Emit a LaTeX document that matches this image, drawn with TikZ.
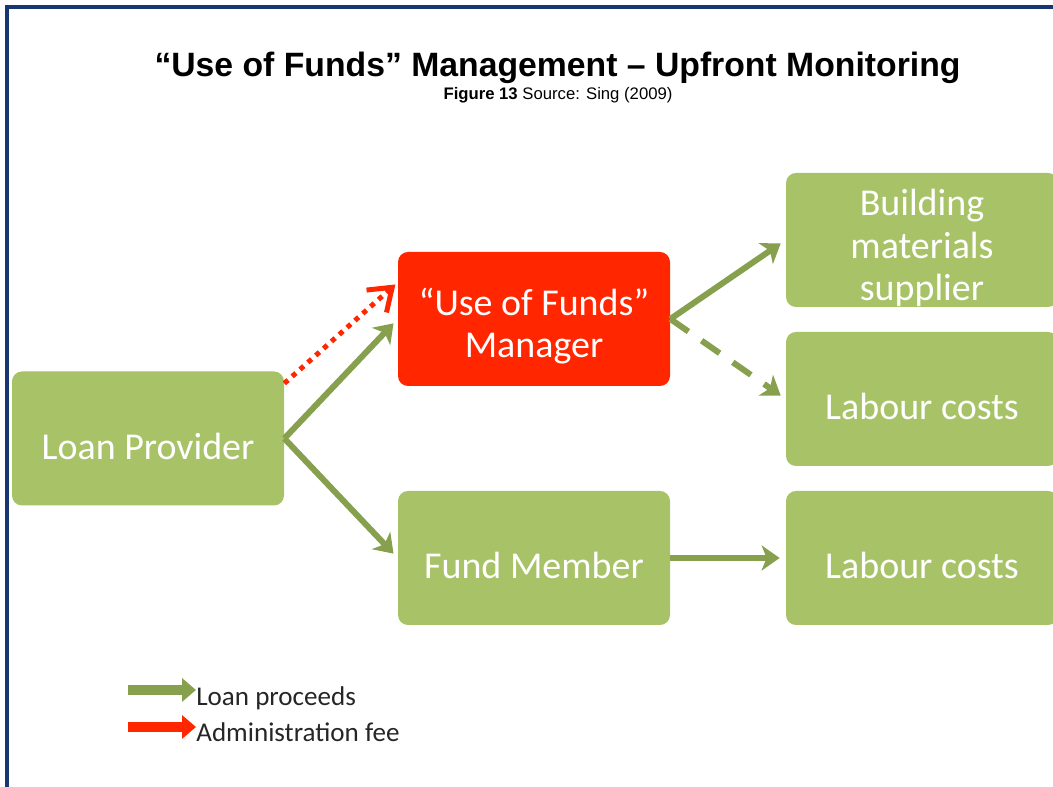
\documentclass[tikz,border=0pt]{standalone}
\usepackage{fontspec}
\setmainfont{Carlito}
\newfontfamily\titlefont{Liberation Sans}
\usetikzlibrary{arrows.meta}
\definecolor{C0}{RGB}{168,194,104}
\definecolor{C1}{RGB}{134,160,78}
\definecolor{C2}{RGB}{255,38,0}
\definecolor{C3}{RGB}{24,54,114}
\newcommand{\toprule}{\rule{0pt}{24pt}}

\begin{document}
\begin{tikzpicture}[
  box/.style={fill=#1, rounded corners=0.2cm, minimum width=5.44cm,
    minimum height=2.68cm, inner xsep=0.05cm, inner ysep=0pt, text=white,
    align=center, font=\fontsize{21.6}{24}\selectfont},
  flow/.style={draw=C1, line width=0.12cm, shorten >=0.12cm,
    -{Stealth[length=0.36cm,width=0.5cm,inset=0.1cm]}},
  fee/.style={draw=C2, line width=0.1cm, dash pattern=on 0.1cm off 0.11cm,
    shorten >=0.06cm, -{Straight Barb[length=0.42cm,width=0.6cm]}},
  legarrow/.style={line width=0.2cm, -{Triangle[length=0.28cm,width=0.46cm]}},
  legtext/.style={anchor=west, inner sep=0pt, text=black!85,
    font=\fontsize{15.4}{18}\selectfont}
]
  \useasboundingbox (0,0) rectangle (21.06,15.74);

  % Frame.
  \draw[C3, line width=0.08cm] (0.14,0) -- (0.14,15.6) -- (21.06,15.6);

  % Title.
  \node[anchor=base, font=\titlefont\bfseries\fontsize{19.2}{22}\selectfont] (title)
    at (11.15,14.2) {“Use of Funds” Management – Upfront Monitoring};
  \node[anchor=base, font=\titlefont\fontsize{9.5}{11}\selectfont] (source)
    at (11.16,13.74) {\textbf{Figure 13} Source: Sing (2009)};

  % Boxes.
  \node[box=C0] (lp) at (2.96,6.97) {\toprule Loan Provider};
  \node[box=C2] (ufm) at (10.68,9.36) {\toprule “Use of Funds”\\Manager};
  \node[box=C0] (fm) at (10.68,4.58) {\toprule Fund Member};
  \node[box=C0] (bms) at (18.44,10.94) {\toprule Building\\materials\\supplier};
  \node[box=C0] (lc1) at (18.44,7.76) {\toprule Labour costs};
  \node[box=C0] (lc2) at (18.44,4.58) {\toprule Labour costs};

  % Loan proceeds.
  \draw[flow] (lp.east) -- (ufm.west);
  \draw[flow] (lp.east) -- (fm.west);
  \draw[flow] (ufm.east) -- (bms.west);
  \draw[flow, dash pattern=on 0.44cm off 0.32cm] (ufm.east) -- (lc1.west);
  \draw[flow] (fm.east) -- (lc2.west);

  % Administration fee.
  \draw[fee] (lp.22) -- (ufm.165);

  % Legend.
  \node[legtext] (lgA) at (3.92,1.78) {Loan proceeds};
  \node[legtext] (lgB) at (3.92,1.1) {Administration fee};
  \coordinate (lgAs) at (2.56,1.94);
  \coordinate (lgBs) at (2.56,1.2);
  \draw[legarrow, C1] (lgAs) -- (lgAs -| lgA.west);
  \draw[legarrow, C2] (lgBs) -- (lgBs -| lgB.west);

\end{tikzpicture}
\end{document}
